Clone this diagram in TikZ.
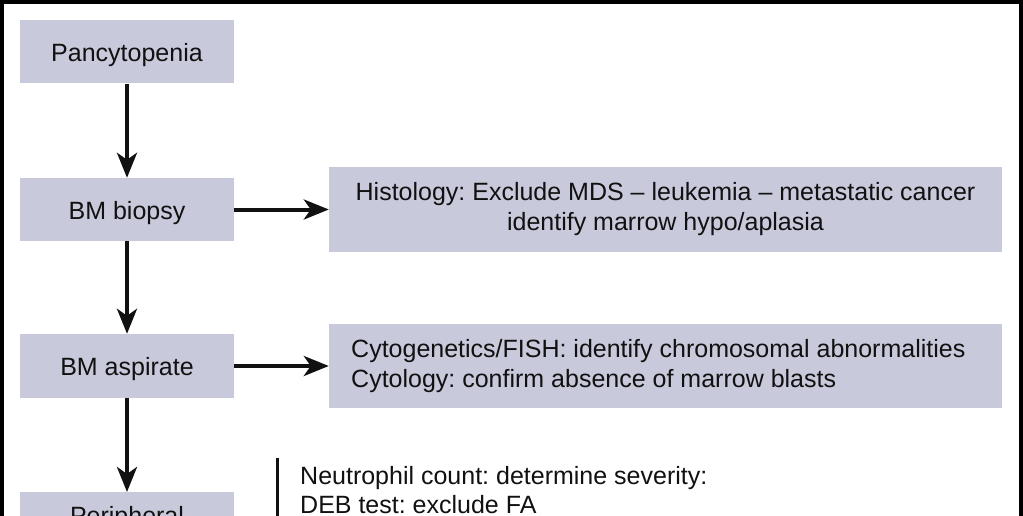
\documentclass[tikz,border=0pt]{standalone}
\usepackage{fontspec}
\setmainfont{Liberation Sans}
\usetikzlibrary{arrows.meta}
\definecolor{boxfill}{HTML}{C8C9DB}
\definecolor{ink}{HTML}{111111}
\tikzset{
  box/.style={fill=boxfill, draw=none, inner sep=0pt, text=ink, font=\fontsize{25}{30}\selectfont\frenchspacing},
  lbl/.style={box, text height=19pt, text depth=0pt},
  conn/.style={line width=4pt, draw=ink, -{Stealth[length=25pt, width=20pt, inset=7pt]}},
  txt/.style={inner sep=0pt, text=ink, font=\fontsize{25}{30}\selectfont\frenchspacing}
}
\begin{document}
\begin{tikzpicture}[x=1pt, y=-1pt]
\useasboundingbox (0,0) rectangle (1023,516);
\clip (0,0) rectangle (1023,516);
\fill[white] (0,0) rectangle (1023,516);
% boxes
\node[lbl, minimum width=214pt, minimum height=63pt] (pan) at (127,52) {Pancytopenia};
\node[lbl, minimum width=214pt, minimum height=63pt] (bio) at (127,209.5) {BM biopsy};
\node[lbl, minimum width=214pt, minimum height=64pt] (asp) at (127,366) {BM aspirate};
\node[box, minimum width=214pt, minimum height=63pt, anchor=north] (per) at (127,492) {};
\node[txt, anchor=base] (pertxt) at (127,524) {Peripheral};
\node[box, minimum width=673pt, minimum height=85pt, align=center] (his) at (665.5,209.5)
  {Histology: Exclude MDS -- leukemia -- metastatic cancer\\identify marrow hypo/aplasia};
\node[box, minimum width=673pt, minimum height=84pt] (cyt) at (665.5,366) {};
\node[txt, align=left, anchor=west] (cyttxt) at (351,366)
  {Cytogenetics/FISH: identify chromosomal abnormalities\\Cytology: confirm absence of marrow blasts};
% connectors
\draw[conn] (pan.south) -- (bio.north);
\draw[conn] (bio.south) -- (asp.north);
\draw[conn] (asp.south) -- (per.north);
\draw[conn] (bio.east) -- (his.west);
\draw[conn] (asp.east) -- (cyt.west);
% bracket bar and texts
\coordinate (bartop) at (277,458);
\coordinate (barbot) at (277,520);
\draw[line width=3pt, draw=ink] (bartop) -- (barbot);
\node[txt, anchor=base west] (neu) at (300,484) {Neutrophil count: determine severity:};
\node[txt, anchor=base west] (deb) at (300,513) {DEB test: exclude FA};
% frame
\draw[line width=4pt, draw=black] (2,520) -- (2,2) -- (1021,2) -- (1021,520);
\end{tikzpicture}
\end{document}
